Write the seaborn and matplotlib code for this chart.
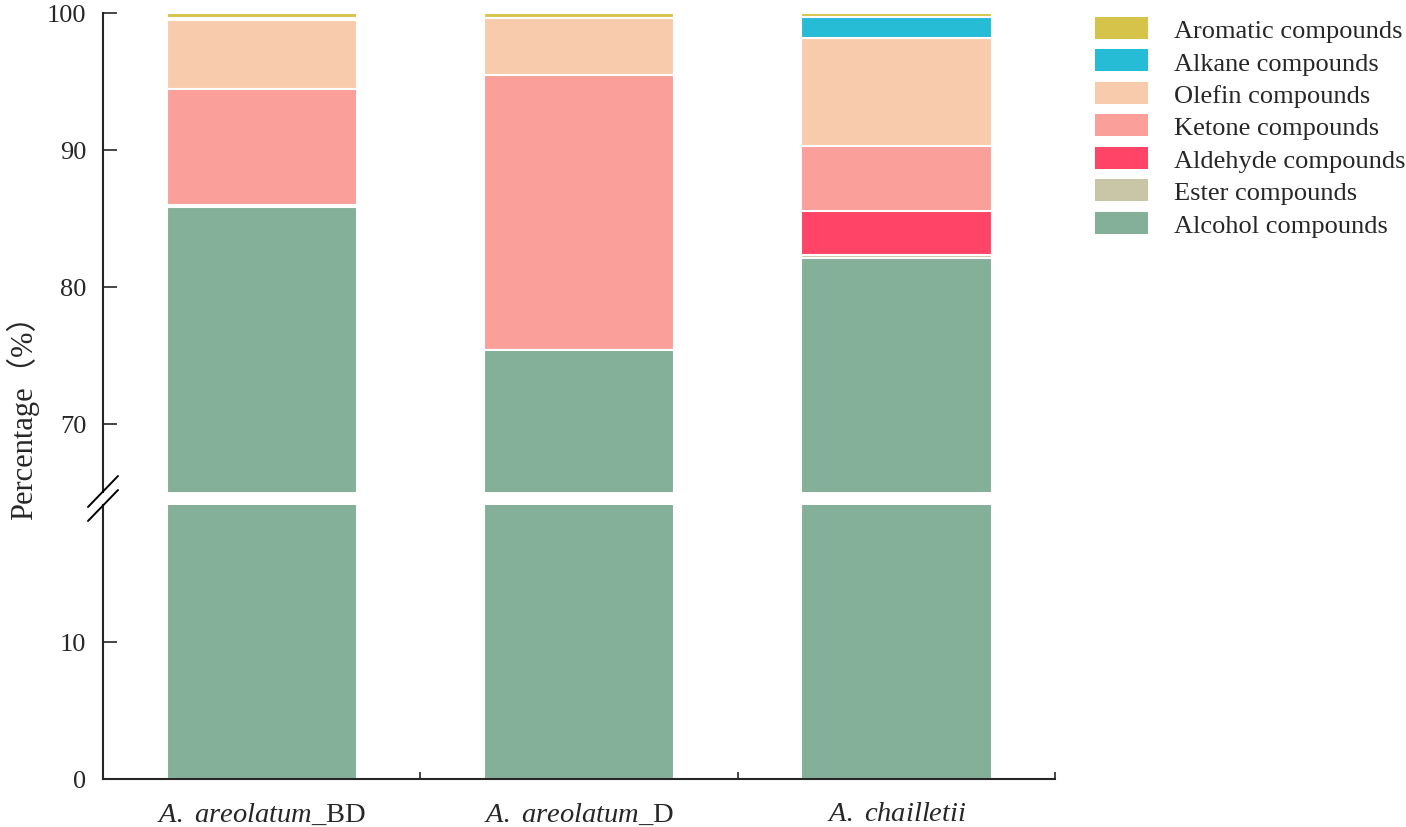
import numpy as np
import pandas as pd
import matplotlib
matplotlib.use("Agg")
import matplotlib.pyplot as plt
from matplotlib.patches import Patch
import seaborn as sns

# ====================
# DATOS
# ====================
samples = ["A. areolatum_BD", "A. areolatum_D", "A. chailletii"]
tick_labels = [r"$\mathit{A.\ areolatum}$_BD", r"$\mathit{A.\ areolatum}$_D", r"$\mathit{A.\ chailletii}$"]

# orden de apilado: de abajo hacia arriba
compounds = ["Alcohol compounds", "Ester compounds", "Aldehyde compounds", "Ketone compounds",
             "Olefin compounds", "Alkane compounds", "Aromatic compounds"]
alcohol = [85.85, 75.35, 82.1]
ester = [0.1, 0.05, 0.2]
aldehyde = [0.0, 0.0, 3.25]
ketone = [8.5, 20.05, 4.75]
olefin = [5.05, 4.2, 7.9]
alkane = [0.1, 0.0, 1.5]
aromatic = [0.4, 0.35, 0.3]

colores = ["#84B09A", "#C8C6A6", "#FF4468", "#FA9F99", "#F9CBAD", "#27BCD6", "#D6C44A"]

valores = [alcohol, ester, aldehyde, ketone, olefin, alkane, aromatic]
df = pd.DataFrame({"Sample": samples})
for nombre, vals in zip(compounds, valores):
    df[nombre] = vals
# acumulado para apilar (se dibuja de arriba hacia abajo)
acum = df[compounds].cumsum(axis=1)
acum["Sample"] = samples

# ====================
# ESTILO
# ====================
sns.set_style("ticks")
plt.rcParams["font.family"] = ["Liberation Serif", "Noto Sans CJK SC", "DejaVu Sans"]
plt.rcParams["mathtext.fontset"] = "custom"
plt.rcParams["mathtext.rm"] = "Liberation Serif"
plt.rcParams["mathtext.it"] = "Liberation Serif:italic"
FS = 19
LW = 1.5

fig = plt.figure(figsize=(14.06, 8.28), dpi=100)
ax_top = fig.add_axes([0.0733, 0.4046, 0.6771, 0.5785])
ax_bot = fig.add_axes([0.0733, 0.0580, 0.6771, 0.3309])

for ax in (ax_top, ax_bot):
    for i in range(len(compounds) - 1, -1, -1):
        sns.barplot(data=acum, x="Sample", y=compounds[i], order=samples, color=colores[i],
                    width=0.6, edgecolor="white", linewidth=1.5, saturation=1, ax=ax)
    ax.set_xlim(-0.5, 2.5)
    ax.set_xlabel("")
    ax.set_ylabel("")
    for s in ["top", "right"]:
        ax.spines[s].set_visible(False)
    ax.spines["left"].set_linewidth(LW)
    ax.spines["bottom"].set_linewidth(LW)
    ax.tick_params(axis="y", direction="in", length=10, width=1.2, labelsize=FS, pad=12)

ax_top.set_ylim(65, 100)
ax_top.set_yticks([70, 80, 90, 100])
ax_top.spines["bottom"].set_visible(False)
ax_top.tick_params(axis="x", bottom=False, labelbottom=False)

ax_bot.set_ylim(0, 20)
ax_bot.set_yticks([0, 10])
ax_bot.set_xticks(range(3))
ax_bot.set_xticklabels(tick_labels)
ax_bot.set_xticks([0.5, 1.5, 2.5], minor=True)
ax_bot.tick_params(axis="x", which="major", direction="in", length=10, width=1.2, labelsize=20.5, pad=16)
ax_bot.tick_params(axis="x", which="minor", direction="in", length=5, width=1.2)

# marcas de corte del eje
kw = dict(color="black", lw=1.4, clip_on=False, transform=fig.transFigure)
x0, x1 = 88 / 1406, 118 / 1406
for yb in (508, 522):
    fig.add_artist(plt.Line2D([x0, x1], [1 - yb / 828, 1 - (yb - 31) / 828], **kw))

fig.text(22 / 1406, 1 - 410 / 828, "Percentage（%）", rotation=90, va="center", ha="center", fontsize=22)

# leyenda (orden invertido)
handles = [Patch(facecolor=colores[i], edgecolor="none", label=compounds[i])
           for i in range(len(compounds) - 1, -1, -1)]
fig.legend(handles=handles, loc="upper left", bbox_to_anchor=(1095 / 1406, 1 - 18 / 828),
           frameon=False, fontsize=FS, handlelength=2.0, handleheight=0.9,
           labelspacing=0.28, handletextpad=1.0, borderaxespad=0, borderpad=0)

fig.savefig("out.png", dpi=100)
